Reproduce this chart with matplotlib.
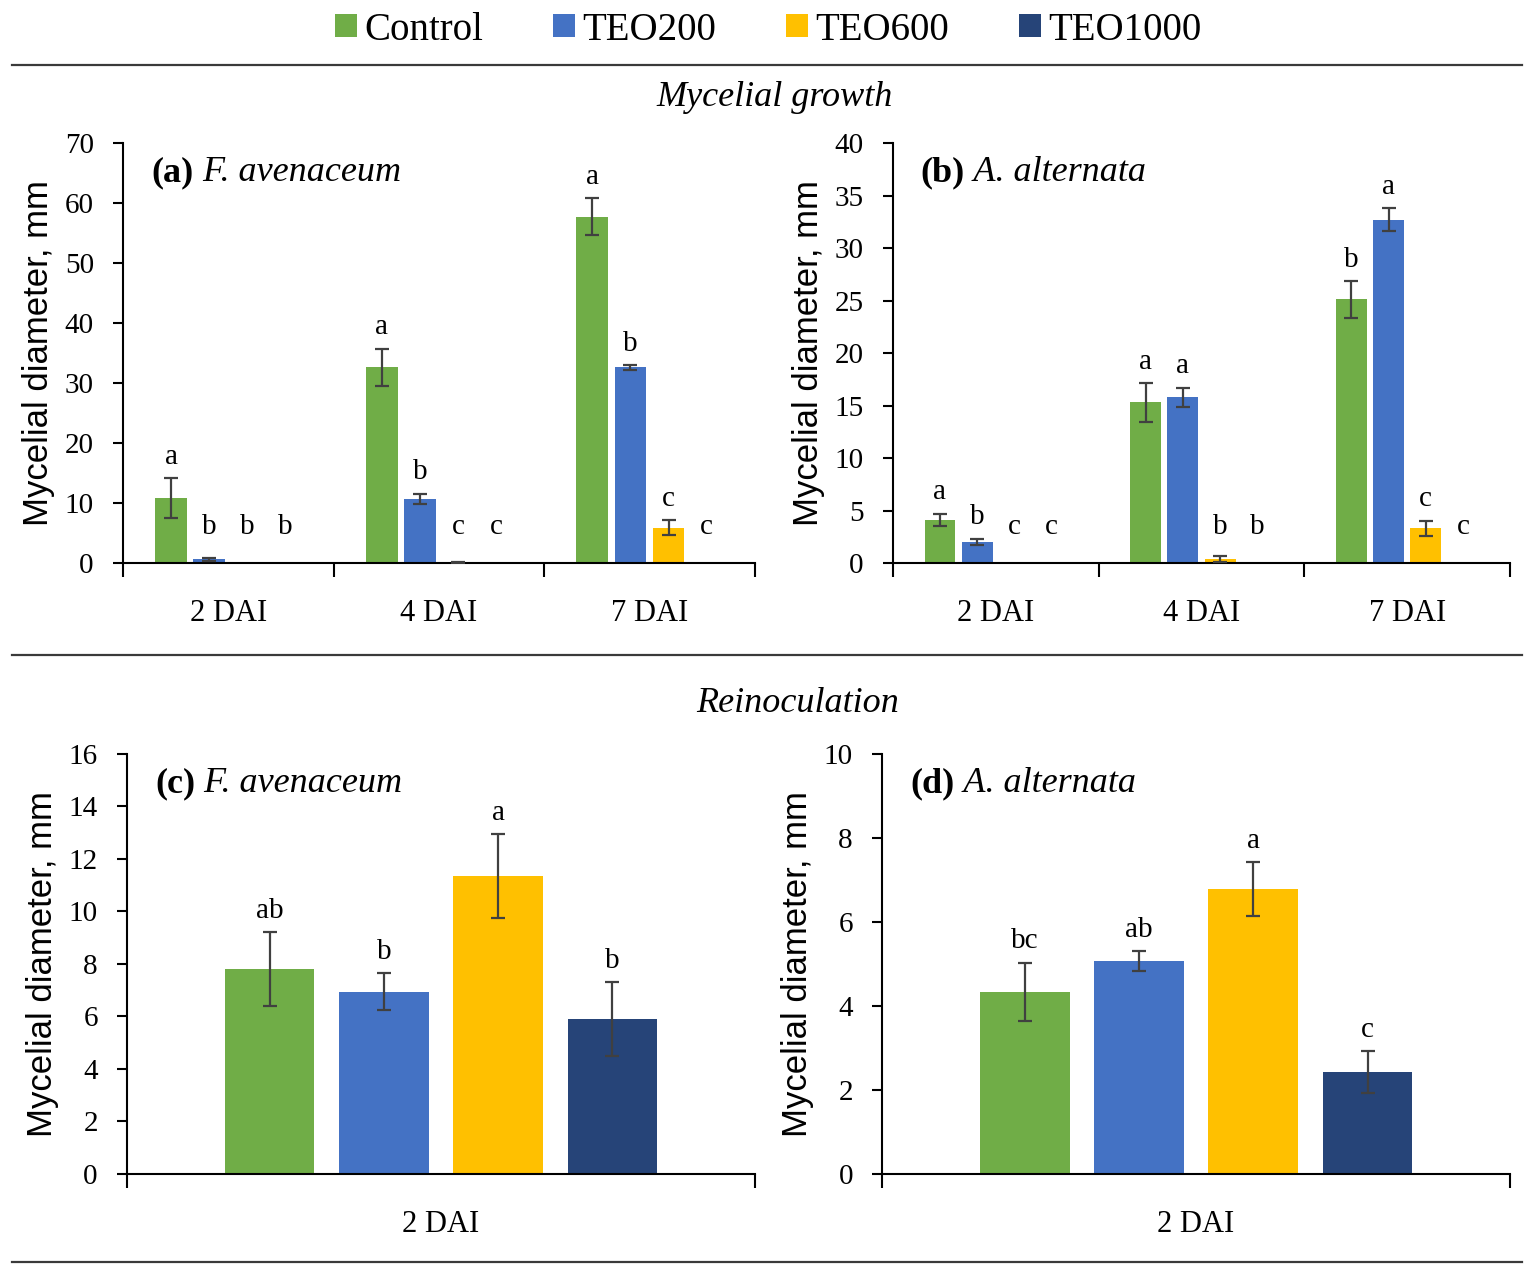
import matplotlib.pyplot as plt
import numpy as np
from matplotlib.lines import Line2D
from matplotlib.patches import Patch

# treatments and colours (Excel palette)
TREATMENTS = ["Control", "TEO200", "TEO600", "TEO1000"]
COLORS = ["#70AD47", "#4472C4", "#FFC000", "#264478"]

DAYS = ["2 DAI", "4 DAI", "7 DAI"]
DAYS_REINOC = ["2 DAI"]

# (a) F. avenaceum, mycelial growth  (rows = treatment, cols = day)
fa_mean = [[10.8, 32.6, 57.7],
           [0.6, 10.7, 32.6],
           [0.0, 0.15, 5.9],
           [0.0, 0.0, 0.0]]
fa_err = [[3.3, 3.1, 3.1],
          [0.2, 0.85, 0.35],
          [0.0, 0.1, 1.2],
          [0.0, 0.0, 0.0]]
fa_letters = [["a", "a", "a"],
              ["b", "b", "b"],
              ["b", "c", "c"],
              ["b", "c", "c"]]

# (b) A. alternata, mycelial growth
aa_mean = [[4.1, 15.3, 25.1],
           [2.0, 15.8, 32.7],
           [0.0, 0.38, 3.3],
           [0.0, 0.0, 0.0]]
aa_err = [[0.6, 1.85, 1.75],
          [0.33, 0.9, 1.1],
          [0.0, 0.25, 0.75],
          [0.0, 0.0, 0.0]]
aa_letters = [["a", "a", "b"],
              ["b", "a", "a"],
              ["c", "b", "c"],
              ["c", "b", "c"]]

# (c) F. avenaceum, reinoculation
fr_mean = [[7.8], [6.95], [11.35], [5.9]]
fr_err = [[1.4], [0.7], [1.6], [1.4]]
fr_letters = [["ab"], ["b"], ["a"], ["b"]]

# (d) A. alternata, reinoculation
ar_mean = [[4.33], [5.07], [6.78], [2.42]]
ar_err = [[0.7], [0.24], [0.64], [0.5]]
ar_letters = [["bc"], ["ab"], ["a"], ["c"]]

SERIF = "Liberation Serif"
SANS = "Liberation Sans"
plt.rcParams["font.family"] = SERIF

fig = plt.figure(figsize=(15.34, 12.77), dpi=100)


def draw_panel(rect, cats, means, errs, letters, ymax, ystep, tag, species,
               width, step):
    ax = fig.add_axes(rect)
    x = np.arange(len(cats))
    n = len(means)
    for i in range(n):
        xs = x + (i - (n - 1) / 2) * step
        m = np.array(means[i])
        e = np.array(errs[i])
        ax.bar(xs, m, width=width, color=COLORS[i], zorder=2)
        keep = e > 0
        if keep.any():
            ax.errorbar(xs[keep], m[keep], yerr=e[keep], fmt="none",
                        ecolor="#404040", elinewidth=1.6, capsize=5,
                        capthick=1.6, zorder=3)
        for xi, mi, ei, lab in zip(xs, m, e, letters[i]):
            ly = max(mi + ei + 0.02 * ymax, 0.055 * ymax)
            ax.text(xi, ly, lab, ha="center", va="bottom", fontsize=21)

    ax.set_xlim(-0.5, len(cats) - 0.5)
    ax.set_ylim(0, ymax)
    ax.set_yticks(np.arange(0, ymax + ystep / 2, ystep))
    ax.set_xticks(x)
    ax.set_xticklabels(cats, fontsize=22)
    ax.set_xticks(np.arange(-0.5, len(cats), 1.0), minor=True)
    ax.tick_params(axis="x", which="major", length=0, pad=26)
    ax.tick_params(axis="x", which="minor", length=10, width=1.5,
                   direction="out")
    ax.tick_params(axis="y", length=7, width=1.5, pad=14, labelsize=21)
    for s in ["top", "right"]:
        ax.spines[s].set_visible(False)
    for s in ["left", "bottom"]:
        ax.spines[s].set_linewidth(1.5)
    ax.set_ylabel("Mycelial diameter, mm", family=SANS, fontsize=25,
                  labelpad=7)

    t1 = ax.text(0.045, 0.93, tag, transform=ax.transAxes, fontsize=26,
                 fontweight="bold", va="center", ha="left")
    ax.annotate(" " + species, xy=(1, 0), xycoords=t1, fontsize=26,
                style="italic", va="bottom", ha="left")
    return ax


draw_panel([0.0802, 0.5591, 0.4118, 0.3289], DAYS, fa_mean, fa_err,
           fa_letters, 70, 10, "(a)", "F. avenaceum", 0.15, 0.181)
draw_panel([0.5821, 0.5591, 0.4023, 0.3289], DAYS, aa_mean, aa_err,
           aa_letters, 40, 5, "(b)", "A. alternata", 0.15, 0.181)
draw_panel([0.0828, 0.0807, 0.4094, 0.3289], DAYS_REINOC, fr_mean, fr_err,
           fr_letters, 16, 2, "(c)", "F. avenaceum", 0.143, 0.182)
draw_panel([0.5750, 0.0807, 0.4094, 0.3289], DAYS_REINOC, ar_mean, ar_err,
           ar_letters, 10, 2, "(d)", "A. alternata", 0.143, 0.182)

# section titles
fig.text(0.505, 1 - 98 / 1277, "Mycelial growth", ha="center", va="center",
         fontsize=26, style="italic")
fig.text(0.52, 1 - 703 / 1277, "Reinoculation", ha="center", va="center",
         fontsize=26, style="italic")

# separator lines
for ypx in [65, 655, 1262]:
    yy = 1 - ypx / 1277
    fig.add_artist(Line2D([0.008, 0.992], [yy, yy], transform=fig.transFigure,
                          color="#3a3a3a", lw=1.6))

# legend
handles = [Patch(facecolor=c, edgecolor="none") for c in COLORS]
fig.legend(handles, TREATMENTS, loc="center", bbox_to_anchor=(0.501, 1 - 30 / 1277),
           ncol=4, frameon=False, fontsize=28, handlelength=0.55,
           handleheight=0.55, handletextpad=0.2, columnspacing=1.8)

fig.savefig("out.png", dpi=100, facecolor="white")
